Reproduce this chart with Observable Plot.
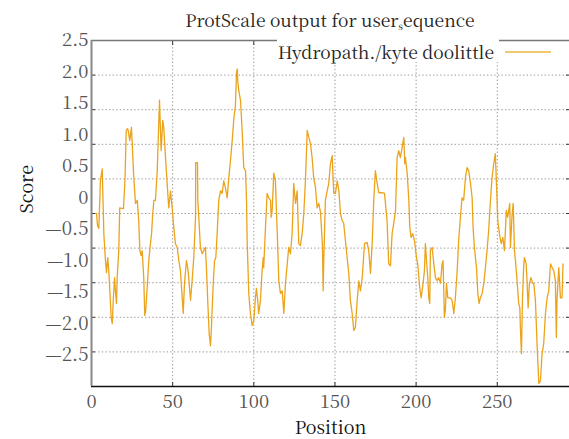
<!DOCTYPE html>
<html>
<head>
<meta charset="utf-8">
<script src="https://cdn.jsdelivr.net/npm/d3@7"></script>
<script src="https://cdn.jsdelivr.net/npm/@observablehq/plot@0.6"></script>
<style>
  html, body { margin: 0; padding: 0; background: #fff; }
  #wrap { position: relative; width: 569px; height: 439px; font-family: "Noto Serif CJK SC", "Liberation Serif", serif; }
  #chart { position: absolute; left: 0; top: 0; }
  #title { position: absolute; left: 91px; top: 0; width: 478px; height: 40px; line-height: 40px; text-align: center; font-size: 17.5px; color: #222; }
  #title sub { font-size: 10px; vertical-align: -3px; line-height: 0; }
  #legbox { position: absolute; left: 277px; top: 35px; width: 222px; height: 27px; background: #fff; }
  #legtext { position: absolute; left: 260px; top: 40px; width: 234px; line-height: 24px; text-align: right; font-size: 17.5px; color: #222; }
  #legline { position: absolute; left: 505px; top: 51px; width: 46px; height: 2px; background: #f2c86e; }
</style>
</head>
<body>
<div id="wrap">
  <div id="chart"></div>
  <div id="title">ProtScale output for user<sub>s</sub>equence</div>
  <div id="legbox"></div>
  <div id="legtext">Hydropath./kyte doolittle</div>
  <div id="legline"></div>
</div>
<script>
const xTicks = [0, 50, 100, 150, 200, 250];
const yTicks = [2.5, 2, 1.5, 1, 0.5, 0, -0.5, -1, -1.5, -2, -2.5];
const yGrid = [1.95, 1.4, 0.85, 0.3, -0.25, -0.8, -1.35, -1.9, -2.45];
const xDomain = [0, 294.5];
const yDomain = [-3, 2.5];

const position = [3.1,3.7,4.5,5.1,5.5,6.6,7.1,7.6,8.6,9.2,10.0,10.7,11.3,12.1,12.8,13.4,14.2,14.6,15.4,15.8,16.8,17.4,18.5,19.7,20.6,21.4,22.2,22.6,23.6,24.6,25.1,25.9,27.1,28.2,29.1,29.8,30.6,31.2,32.2,32.8,33.4,34.3,35.3,36.3,37.0,37.6,38.4,39.4,40.5,41.1,41.9,42.5,42.9,43.9,44.5,45.6,47.0,47.6,48.7,49.7,50.7,51.7,52.8,53.8,54.8,55.9,56.5,57.3,58.5,59.3,59.9,61.0,62.0,63.0,64.1,64.2,65.3,65.5,66.1,67.1,68.2,69.2,70.2,70.8,71.6,72.5,73.3,73.9,75.0,75.8,76.6,77.4,78.4,79.5,80.5,81.5,82.5,83.6,84.6,85.6,86.7,87.7,88.7,89.3,89.8,90.1,90.7,91.8,92.8,93.8,94.9,95.5,95.9,96.9,97.9,99.0,100.0,101.0,101.6,102.4,103.0,104.1,105.1,105.8,106.1,107.2,108.2,109.2,110.3,110.7,111.3,112.3,113.3,114.4,115.4,116.4,117.5,118.5,119.5,120.6,121.5,122.6,123.6,124.6,125.7,126.7,127.7,128.7,129.8,130.8,131.8,132.9,133.9,134.9,135.9,136.9,138.0,139.0,140.0,141.1,142.3,142.7,143.1,144.1,145.2,146.2,147.2,148.3,148.9,149.3,150.3,151.4,152.4,153.4,154.4,155.4,157.5,158.5,159.5,160.6,161.6,162.6,163.7,164.7,165.7,166.8,168.2,169.8,170.8,171.9,172.9,173.9,174.9,176.0,177.0,179.1,180.5,182.1,183.1,184.2,185.2,186.2,187.3,188.3,189.3,190.3,191.4,192.4,193.0,193.4,194.5,195.5,196.1,196.9,197.9,199.0,200.2,201.0,202.2,203.1,204.3,205.1,205.7,206.4,207.2,207.8,208.4,208.8,209.9,210.9,211.9,212.9,213.9,215.0,216.0,216.6,217.4,218.0,218.7,219.5,221.1,222.2,222.8,223.2,224.2,225.3,226.2,227.3,228.3,229.3,230.4,231.4,232.4,233.5,234.5,235.1,235.9,237.2,238.0,238.8,239.6,240.7,241.7,242.7,243.7,244.7,245.8,246.8,247.8,248.8,249.5,250.3,251.3,252.4,253.4,254.4,255.6,256.4,257.7,258.1,259.1,259.8,260.6,261.2,262.2,263.2,263.9,264.3,264.9,265.5,266.3,266.7,267.8,268.4,269.0,269.8,270.8,271.8,272.5,273.5,274.6,275.6,276.6,277.6,278.6,279.7,280.7,281.7,282.8,283.8,284.8,285.8,286.4,286.8,287.9,288.9,289.9,290.5];
const score = [-0.25,-0.44,-0.49,-0.04,0.27,0.46,-0.04,-0.57,-1.00,-1.19,-0.95,-1.19,-1.48,-1.90,-2.00,-1.63,-1.27,-1.43,-1.68,-1.27,-0.84,-0.16,-0.17,-0.17,0.27,1.07,1.10,1.07,0.91,1.12,0.86,0.39,-0.09,-0.04,-0.36,-0.84,-0.92,-0.84,-1.27,-1.87,-1.79,-1.43,-1.00,-0.73,-0.57,-0.31,-0.04,-0.04,0.43,0.91,1.55,1.07,0.75,1.23,1.12,0.64,0.07,-0.16,0.11,-0.16,-0.47,-0.73,-0.79,-1.00,-1.16,-1.59,-1.84,-1.36,-1.00,-1.11,-1.27,-1.63,-1.32,-0.95,-0.31,0.56,0.56,-0.04,-0.31,-0.79,-0.89,-0.84,-0.79,-1.11,-1.63,-2.16,-2.35,-2.06,-1.36,-1.00,-0.95,-0.57,-0.04,0.11,0.07,0.27,0.16,0.00,0.32,0.59,0.91,1.26,1.47,1.98,2.05,1.86,1.71,1.55,1.07,0.48,0.43,-0.04,-0.68,-1.52,-1.84,-2.03,-1.95,-1.59,-1.44,-1.63,-1.84,-1.63,-1.16,-0.95,-1.11,-0.47,0.07,0.00,-0.04,-0.31,-0.20,0.39,0.27,-0.52,-1.32,-1.52,-1.48,-1.84,-1.36,-1.05,-0.79,-0.89,-0.57,0.23,-0.09,0.11,-0.73,-0.76,-0.57,-0.25,0.27,1.07,0.96,0.86,0.64,0.32,0.16,-0.16,-0.09,-0.23,-0.76,-1.48,-1.00,-0.04,0.11,0.23,0.54,0.67,0.27,0.07,0.07,0.27,0.11,-0.25,-0.36,-0.41,-0.95,-1.20,-1.63,-1.84,-2.11,-2.06,-1.63,-1.32,-1.48,-1.27,-0.73,-0.71,-0.84,-1.20,-0.73,-0.04,0.43,0.23,0.08,0.08,0.07,-0.36,-1.05,-1.08,-0.57,-0.41,-0.20,0.64,0.75,0.64,0.80,0.96,0.54,0.64,0.39,-0.04,-0.47,-0.63,-0.57,-0.68,-0.95,-1.05,-1.43,-1.59,-1.36,-1.16,-0.73,-1.00,-1.27,-1.59,-1.68,-0.84,-0.79,-1.05,-1.27,-1.32,-1.27,-1.36,-1.05,-1.00,-1.90,-1.79,-1.36,-1.59,-1.59,-1.63,-1.75,-1.84,-1.59,-1.16,-0.68,-0.31,0.00,-0.04,0.32,0.48,0.43,0.23,0.00,-0.47,-0.79,-1.11,-1.52,-1.68,-1.59,-1.52,-1.36,-1.11,-0.84,-0.52,-0.04,0.32,0.54,0.70,0.23,-0.36,-0.57,-0.73,-0.63,-0.84,-0.20,-0.31,-0.09,-0.79,-0.28,-0.09,-0.84,-1.00,-1.32,-1.68,-1.75,-2.11,-2.48,-1.63,-1.08,-0.95,-1.05,-1.36,-1.75,-1.36,-1.27,-1.36,-1.36,-1.63,-2.38,-2.95,-2.91,-2.48,-2.32,-1.84,-1.59,-1.48,-1.05,-1.11,-1.16,-1.32,-2.22,-1.63,-1.11,-1.59,-1.59,-1.05];

const rows = position.map((p, i) => ({position: p, score: score[i]}));

const fmt = d => d === 0 ? "0" : (d < 0 ? "\u2014" + (-d).toFixed(1) : d.toFixed(1));
const blank = () => "";
const gridStyle = {stroke: "#999", strokeOpacity: 1, strokeDasharray: "1.4,2.2", strokeWidth: 1};
const FONT = "'Noto Serif CJK SC', 'Liberation Serif', serif";

const chart = Plot.plot({
  width: 569,
  height: 439,
  marginTop: 40,
  marginBottom: 53,
  marginLeft: 91,
  marginRight: 0,
  style: {fontFamily: FONT, background: "transparent", overflow: "visible"},
  x: {domain: xDomain, label: null},
  y: {domain: yDomain, label: null},
  marks: [
    Plot.gridX(xTicks.slice(1), gridStyle),
    Plot.gridY(yGrid, gridStyle),
    Plot.axisY(yGrid, {anchor: "left", tickSize: -4, tickFormat: blank, stroke: "#333"}),
    Plot.axisY(yGrid, {anchor: "right", tickSize: -4, tickFormat: blank, stroke: "#333"}),
    Plot.axisX(xTicks, {anchor: "top", tickSize: -4, tickFormat: blank, stroke: "#333"}),
    Plot.axisX(xTicks, {anchor: "bottom", tickSize: -4, tickFormat: blank, stroke: "#333"}),
    Plot.axisY(yTicks, {anchor: "left", tickSize: 0, tickPadding: 3, tickFormat: fmt, fontSize: 18.5, fill: "#555", label: null}),
    Plot.axisX(xTicks, {anchor: "bottom", tickSize: 0, tickPadding: 8, tickFormat: d => String(d), fontSize: 18.5, fill: "#555", label: null}),
    Plot.ruleY([yDomain[1]], {stroke: "#777", strokeWidth: 1.5}),
    Plot.ruleY([yDomain[0]], {stroke: "#111", strokeWidth: 1.5}),
    Plot.ruleX([xDomain[0]], {stroke: "#888", strokeWidth: 2}),
    Plot.line(rows, {x: "position", y: "score", stroke: "#eba31c", strokeWidth: 1.3}),
    Plot.text(["Score"], {frameAnchor: "left", dx: -64, rotate: -90, fontSize: 18, fill: "#111"}),
    Plot.text(["Position"], {frameAnchor: "bottom", dy: 47, fontSize: 18, fill: "#111"})
  ]
});
document.getElementById("chart").appendChild(chart);
</script>
</body>
</html>
